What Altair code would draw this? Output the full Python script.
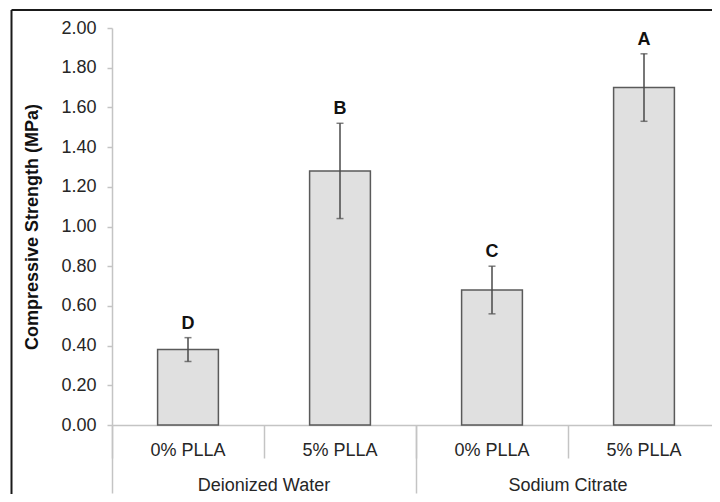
import altair as alt
import pandas as pd

# ---- data ----
groups = ["Deionized Water", "Deionized Water", "Sodium Citrate", "Sodium Citrate"]
treatments = ["0% PLLA", "5% PLLA", "0% PLLA", "5% PLLA"]
means = [0.38, 1.28, 0.68, 1.70]
errors = [0.06, 0.24, 0.12, 0.17]
letters = ["D", "B", "C", "A"]
group_names = ["Deionized Water", "Sodium Citrate"]
y_ticks = [0.0, 0.2, 0.4, 0.6, 0.8, 1.0, 1.2, 1.4, 1.6, 1.8, 2.0]

keys = [f"{g}|{t}" for g, t in zip(groups, treatments)]
df = pd.DataFrame({"key": keys, "group": groups, "treatment": treatments,
                   "mean": means, "err": errors, "letter": letters})
gdf = pd.DataFrame({"group": group_names})
one = pd.DataFrame({"a": [0]})

FONT = "Liberation Sans"
FS = 18
AX = "#c4c4c4"
TXT = "#262626"
YTITLE = "Compressive Strength (MPa)"
X_RANGE = [0, 608]

x_sub = alt.X(
    "key:N", sort=keys, title=None,
    scale=alt.Scale(paddingInner=0, paddingOuter=0, range=X_RANGE),
    axis=alt.Axis(labelExpr="split(datum.label, '|')[1]", labelAngle=0,
                  bandPosition=0, tickSize=33, tickColor=AX, tickWidth=1.5,
                  domainColor=AX, domainWidth=1.5, labelPadding=-17,
                  labelFontSize=FS, labelFont=FONT, labelColor=TXT,
                  offset=0, grid=False, orient="bottom"),
)

y_axis = alt.Axis(values=y_ticks, format=".2f", tickSize=5, tickColor=AX,
                  tickWidth=1.5, domainColor=AX, domainWidth=1.5,
                  labelPadding=11, labelFontSize=FS, labelFont=FONT,
                  labelColor=TXT, titleFont=FONT, titleFontSize=FS,
                  titleFontWeight="bold", titleColor="#111111",
                  titlePadding=19, grid=False)
y_scale = alt.Scale(domain=[0, 2], nice=False)

bars = alt.Chart(df).mark_bar(
    width=alt.RelativeBandSize(0.4), fill="#e0e0e0", stroke="#5a5a5a",
    strokeWidth=1.5
).encode(x=x_sub, y=alt.Y("mean:Q", scale=y_scale, axis=y_axis, title=YTITLE))

base = alt.Chart(df).transform_calculate(
    lo="datum.mean - datum.err", hi="datum.mean + datum.err")

errs = base.mark_rule(color="#4a4a4a", strokeWidth=1.5).encode(
    x=x_sub, y=alt.Y("lo:Q", scale=y_scale, axis=y_axis, title=YTITLE),
    y2="hi:Q")
cap_hi = base.mark_tick(color="#4a4a4a", thickness=1.5, size=7).encode(
    x=x_sub, y=alt.Y("hi:Q", scale=y_scale, axis=y_axis, title=YTITLE))
cap_lo = base.mark_tick(color="#4a4a4a", thickness=1.5, size=7).encode(
    x=x_sub, y=alt.Y("lo:Q", scale=y_scale, axis=y_axis, title=YTITLE))
labels = base.mark_text(font=FONT, fontSize=FS, fontWeight="bold",
                        color="#111111", baseline="alphabetic", dy=-9).encode(
    x=x_sub, y=alt.Y("hi:Q", scale=y_scale, axis=y_axis, title=YTITLE),
    text="letter:N")

group_layer = alt.Chart(gdf).mark_point(opacity=0).encode(
    x=alt.X("group:N", sort=group_names, title=None,
            scale=alt.Scale(type="band", paddingInner=0, paddingOuter=0,
                            range=X_RANGE),
            axis=alt.Axis(domain=False, bandPosition=0, tickSize=68,
                          tickColor=AX, tickWidth=1.5, labelPadding=-16.5,
                          labelAngle=0, labelFontSize=FS, labelFont=FONT,
                          labelColor=TXT, offset=0, grid=False,
                          orient="bottom")),
    y=alt.value(0))

frame_v = alt.Chart(one).mark_rule(color="#1a1a1a", strokeWidth=2).encode(
    x=alt.value(-100.5), y=alt.value(-18), y2=alt.value(480))
frame_h = alt.Chart(one).mark_rule(color="#1a1a1a", strokeWidth=2).encode(
    x=alt.value(-100.5), x2=alt.value(620), y=alt.value(-18))

inner = alt.layer(bars, errs, cap_hi, cap_lo, labels)

chart = alt.layer(inner, group_layer, frame_v, frame_h).resolve_scale(
    x="independent"
).properties(
    width=600, height=397,
    padding={"left": 104, "top": 20, "right": 0, "bottom": 69},
    autosize=alt.AutoSizeParams(type="none"),
    background="white",
).configure_view(stroke=None)

chart.save("out.html", embed_options={"renderer": "svg", "actions": False})
